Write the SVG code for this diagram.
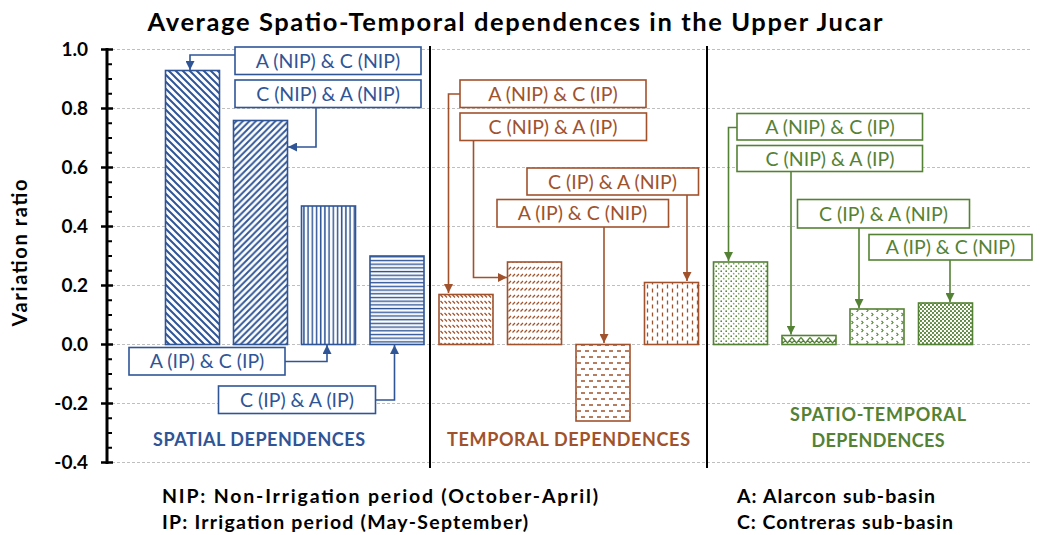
<svg xmlns="http://www.w3.org/2000/svg" width="1040" height="535" viewBox="0 0 1040 535">
  <style>
    .title { font-family: Lato, "Open Sans", sans-serif; font-weight: bold; font-size: 25.5px; fill: #000; }
    .tick { font-family: Lato, "Open Sans", sans-serif; font-weight: bold; font-size: 19px; fill: #000; text-anchor: end; }
    .axlabel { font-family: Lato, "Open Sans", sans-serif; font-weight: bold; font-size: 20px; fill: #000; text-anchor: middle; }
    .grid { stroke: #BFBFBF; stroke-width: 1; stroke-dasharray: 3 2; fill: none; }
    .sep { stroke: #000; stroke-width: 2; }
    .lbl { font-family: Lato, "Open Sans", sans-serif; font-size: 19.5px; text-anchor: middle; }
    .sect { font-family: Lato, "Open Sans", sans-serif; font-weight: bold; font-size: 18px; text-anchor: middle; }
    .legend { font-family: Lato, "Open Sans", sans-serif; font-weight: bold; font-size: 19.5px; fill: #000; }
    .box { fill: #fff; stroke-width: 1.6; }
    .bar { stroke-width: 1.6; }
    .blue { stroke: #2F5597; }
    .brown { stroke: #A0522D; }
    .green { stroke: #548235; }
    .tblue { fill: #2F5597; }
    .tbrown { fill: #A0522D; }
    .tgreen { fill: #548235; }
    .conn { fill: none; stroke-width: 1.6; }
  </style>
  <defs>
    <!-- arrowheads -->
    <marker id="arrBlue" viewBox="0 0 10 10" refX="10" refY="5" markerWidth="9" markerHeight="9" markerUnits="userSpaceOnUse" orient="auto">
      <path d="M0,0 L10,5 L0,10 Z" fill="#2F5597"/>
    </marker>
    <marker id="arrBrown" viewBox="0 0 10 10" refX="10" refY="5" markerWidth="9" markerHeight="9" markerUnits="userSpaceOnUse" orient="auto">
      <path d="M0,0 L10,5 L0,10 Z" fill="#A0522D"/>
    </marker>
    <marker id="arrGreen" viewBox="0 0 10 10" refX="10" refY="5" markerWidth="9" markerHeight="9" markerUnits="userSpaceOnUse" orient="auto">
      <path d="M0,0 L10,5 L0,10 Z" fill="#548235"/>
    </marker>

    <!-- blue fills -->
    <pattern id="pBlueDown" width="7" height="7" patternUnits="userSpaceOnUse">
      <rect width="7" height="7" fill="#fff"/>
      <path d="M0,0 L7,7 M-2,5 L2,9 M5,-2 L9,2" stroke="#2F5597" stroke-width="2"/>
    </pattern>
    <pattern id="pBlueUp" width="6.5" height="6.5" patternUnits="userSpaceOnUse">
      <rect width="6.5" height="6.5" fill="#fff"/>
      <path d="M0,6.5 L6.5,0 M-2,2 L2,-2 M4.5,8.5 L8.5,4.5" stroke="#2F5597" stroke-width="1.9"/>
    </pattern>
    <pattern id="pBlueVert" width="4.2" height="10" patternUnits="userSpaceOnUse">
      <rect width="4.2" height="10" fill="#fff"/>
      <path d="M1.5,0 L1.5,10" stroke="#2F5597" stroke-width="1.5"/>
    </pattern>
    <pattern id="pBlueHorz" width="10" height="3.7" patternUnits="userSpaceOnUse">
      <rect width="10" height="3.7" fill="#fff"/>
      <path d="M0,1.5 L10,1.5" stroke="#2F5597" stroke-width="1.4"/>
    </pattern>

    <!-- brown fills -->
    <pattern id="pBrownDashDown" width="4" height="6" patternUnits="userSpaceOnUse">
      <rect width="4" height="6" fill="#fff"/>
      <path d="M0.5,1 L3,3.5" stroke="#A0522D" stroke-width="1.2"/>
    </pattern>
    <pattern id="pBrownDashUp" width="4" height="7" patternUnits="userSpaceOnUse">
      <rect width="4" height="7" fill="#fff"/>
      <path d="M0.5,3.5 L3,1" stroke="#A0522D" stroke-width="1.2"/>
    </pattern>
    <pattern id="pBrownDashH" width="8" height="12" patternUnits="userSpaceOnUse">
      <rect width="8" height="12" fill="#fff"/>
      <path d="M1,3 L5,3 M5,9 L9,9 M-3,9 L1,9" stroke="#A0522D" stroke-width="1.3"/>
    </pattern>
    <pattern id="pBrownDashV" width="10" height="8" patternUnits="userSpaceOnUse">
      <rect width="10" height="8" fill="#fff"/>
      <path d="M2.5,0.5 L2.5,4.5 M7.5,4.5 L7.5,8.5 M7.5,-3.5 L7.5,0.5" stroke="#A0522D" stroke-width="1.3"/>
    </pattern>

    <!-- green fills -->
    <pattern id="pGreenDots" width="5" height="5" patternUnits="userSpaceOnUse">
      <rect width="5" height="5" fill="#fff"/>
      <circle cx="1.2" cy="1.2" r="0.85" fill="#548235"/>
      <circle cx="3.7" cy="3.7" r="0.85" fill="#548235" opacity="0.7"/>
    </pattern>
    <pattern id="pGreenTrellis" width="9" height="8" patternUnits="userSpaceOnUse">
      <rect width="9" height="8" fill="#fff"/>
      <path d="M0,1.5 L4.5,7 L9,1.5 M0,7 L2.2,4.3 M9,7 L6.8,4.3" stroke="#548235" stroke-width="1.2" fill="none"/>
    </pattern>
    <pattern id="pGreenChevron" width="10" height="8" patternUnits="userSpaceOnUse">
      <rect width="10" height="8" fill="#fff"/>
      <path d="M1.5,1 L3,2.5 L1.5,4 M6.5,5 L8,6.5 L6.5,8" stroke="#548235" stroke-width="1.1" fill="none"/>
    </pattern>
    <pattern id="pGreenDense" width="4" height="4" patternUnits="userSpaceOnUse">
      <rect width="4" height="4" fill="#fff"/>
      <circle cx="1" cy="1" r="1.1" fill="#548235"/>
      <circle cx="3" cy="3" r="1.1" fill="#548235"/>
    </pattern>
  </defs>

  <rect width="1040" height="535" fill="#fff"/>

  <!-- title -->
  <text class="title" x="515" y="31" text-anchor="middle" textLength="735">Average Spatio-Temporal dependences in the Upper Jucar</text>

  <!-- gridlines (0.2 steps: 1 unit = 295 px, zero at y=344.5) -->
  <g id="grid">
    <path class="grid" d="M112,49.5 H1030 M112,108.5 H1030 M112,167.5 H1030 M112,226.5 H1030 M112,285.5 H1030 M112,344.5 H1030 M112,403.5 H1030 M112,462.5 H1030"/>
  </g>

  <!-- y axis -->
  <g id="axis">
    <line x1="107" y1="48" x2="107" y2="464" stroke="#000" stroke-width="3"/>
    <path stroke="#000" stroke-width="2.5" d="M101,49.5 H113 M101,108.5 H113 M101,167.5 H113 M101,226.5 H113 M101,285.5 H113 M101,344.5 H113 M101,403.5 H113 M101,462.5 H113"/>
    <path stroke="#000" stroke-width="2" d="M107,64.25 H112 M107,79 H112 M107,93.75 H112 M107,123.25 H112 M107,138 H112 M107,152.75 H112 M107,182.25 H112 M107,197 H112 M107,211.75 H112 M107,241.25 H112 M107,256 H112 M107,270.75 H112 M107,300.25 H112 M107,315 H112 M107,329.75 H112 M107,359.25 H112 M107,374 H112 M107,388.75 H112 M107,418.25 H112 M107,433 H112 M107,447.75 H112"/>
    <text class="tick" x="88" y="56">1.0</text>
    <text class="tick" x="88" y="115">0.8</text>
    <text class="tick" x="88" y="174">0.6</text>
    <text class="tick" x="88" y="233">0.4</text>
    <text class="tick" x="88" y="292">0.2</text>
    <text class="tick" x="88" y="351">0.0</text>
    <text class="tick" x="88" y="410">-0.2</text>
    <text class="tick" x="88" y="469">-0.4</text>
    <text class="axlabel" transform="translate(27,253) rotate(-90)" textLength="147">Variation ratio</text>
  </g>

  <!-- section separators -->
  <line class="sep" x1="430" y1="46" x2="430" y2="468"/>
  <line class="sep" x1="707" y1="46" x2="707" y2="468"/>

  <!-- bars -->
  <g id="bars">
    <rect id="bar-s1" class="bar blue" x="165.5" y="70.5" width="54" height="274" fill="url(#pBlueDown)"/>
    <rect id="bar-s2" class="bar blue" x="233.5" y="120.5" width="54" height="224" fill="url(#pBlueUp)"/>
    <rect id="bar-s3" class="bar blue" x="301.5" y="206" width="54" height="138.5" fill="url(#pBlueVert)"/>
    <rect id="bar-s4" class="bar blue" x="370" y="256" width="54" height="88.5" fill="url(#pBlueHorz)"/>

    <rect id="bar-t1" class="bar brown" x="439" y="294.5" width="54" height="50" fill="url(#pBrownDashDown)"/>
    <rect id="bar-t2" class="bar brown" x="507.5" y="262" width="54" height="82.5" fill="url(#pBrownDashUp)"/>
    <rect id="bar-t3" class="bar brown" x="576" y="344.5" width="54" height="76.5" fill="url(#pBrownDashH)"/>
    <rect id="bar-t4" class="bar brown" x="644.5" y="282.5" width="54" height="62" fill="url(#pBrownDashV)"/>

    <rect id="bar-st1" class="bar green" x="713.5" y="262" width="54" height="82.5" fill="url(#pGreenDots)"/>
    <rect id="bar-st2" class="bar green" x="782" y="335.5" width="54" height="9" fill="url(#pGreenTrellis)"/>
    <rect id="bar-st3" class="bar green" x="850" y="309" width="54" height="35.5" fill="url(#pGreenChevron)"/>
    <rect id="bar-st4" class="bar green" x="918.5" y="303" width="54" height="41.5" fill="url(#pGreenDense)"/>
  </g>

  <!-- connectors -->
  <g id="connectors">
    <path class="conn blue" d="M235,55 H190 V70" marker-end="url(#arrBlue)"/>
    <path class="conn blue" d="M316,107 V147 H288" marker-end="url(#arrBlue)"/>
    <path class="conn blue" d="M285,361.5 H327 V345" marker-end="url(#arrBlue)"/>
    <path class="conn blue" d="M376,400 H394.5 V345" marker-end="url(#arrBlue)"/>

    <path class="conn brown" d="M460,94 H448.5 V293" marker-end="url(#arrBrown)"/>
    <path class="conn brown" d="M473.5,140.5 V277.5 H507" marker-end="url(#arrBrown)"/>
    <path class="conn brown" d="M604,227 V343" marker-end="url(#arrBrown)"/>
    <path class="conn brown" d="M687,195 V281" marker-end="url(#arrBrown)"/>

    <path class="conn green" d="M737,127.5 H728.5 V261" marker-end="url(#arrGreen)"/>
    <path class="conn green" d="M791,171.5 V334.5" marker-end="url(#arrGreen)"/>
    <path class="conn green" d="M859,228 V308" marker-end="url(#arrGreen)"/>
    <path class="conn green" d="M950,260 V302" marker-end="url(#arrGreen)"/>
  </g>

  <!-- label boxes -->
  <g id="lbl-s1"><rect class="box blue" x="235" y="47" width="186" height="27.5"/><text class="lbl tblue" x="328" y="67.5">A (NIP) &amp; C (NIP)</text></g>
  <g id="lbl-s2"><rect class="box blue" x="235" y="80" width="186" height="27.5"/><text class="lbl tblue" x="328" y="100.5">C (NIP) &amp; A (NIP)</text></g>
  <g id="lbl-s3"><rect class="box blue" x="129" y="347.5" width="156" height="27.5"/><text class="lbl tblue" x="207" y="368">A (IP) &amp; C (IP)</text></g>
  <g id="lbl-s4"><rect class="box blue" x="218.5" y="386" width="157" height="27.5"/><text class="lbl tblue" x="297" y="406.5">C (IP) &amp; A (IP)</text></g>

  <g id="lbl-t1"><rect class="box brown" x="460" y="80" width="186" height="27.5"/><text class="lbl tbrown" x="553" y="100.5">A (NIP) &amp; C (IP)</text></g>
  <g id="lbl-t2"><rect class="box brown" x="460" y="113" width="186.5" height="27.5"/><text class="lbl tbrown" x="553" y="133.5">C (NIP) &amp; A (IP)</text></g>
  <g id="lbl-t3"><rect class="box brown" x="527" y="168" width="171.5" height="27"/><text class="lbl tbrown" x="612.5" y="188.5">C (IP) &amp; A (NIP)</text></g>
  <g id="lbl-t4"><rect class="box brown" x="497" y="199.5" width="171.5" height="27.5"/><text class="lbl tbrown" x="582.5" y="220">A (IP) &amp; C (NIP)</text></g>

  <g id="lbl-st1"><rect class="box green" x="737" y="113.5" width="185.5" height="26.5"/><text class="lbl tgreen" x="830" y="133.5">A (NIP) &amp; C (IP)</text></g>
  <g id="lbl-st2"><rect class="box green" x="737" y="145.5" width="185.5" height="26"/><text class="lbl tgreen" x="830" y="165.5">C (NIP) &amp; A (IP)</text></g>
  <g id="lbl-st3"><rect class="box green" x="797.5" y="199.5" width="172" height="28.5"/><text class="lbl tgreen" x="883.5" y="220.5">C (IP) &amp; A (NIP)</text></g>
  <g id="lbl-st4"><rect class="box green" x="869" y="234.5" width="163" height="25.5"/><text class="lbl tgreen" x="950.5" y="254">A (IP) &amp; C (NIP)</text></g>

  <!-- section captions -->
  <text class="sect tblue" x="259" y="446" textLength="212">SPATIAL DEPENDENCES</text>
  <text class="sect tbrown" x="568.5" y="446" textLength="243">TEMPORAL DEPENDENCES</text>
  <text class="sect tgreen" x="878" y="421" textLength="176">SPATIO-TEMPORAL</text>
  <text class="sect tgreen" x="878" y="447" textLength="133">DEPENDENCES</text>

  <!-- legend notes -->
  <text class="legend" x="162" y="503" textLength="436">NIP: Non-Irrigation period (October-April)</text>
  <text class="legend" x="162" y="529" textLength="366">IP: Irrigation period (May-September)</text>
  <text class="legend" x="737" y="503" textLength="198">A: Alarcon sub-basin</text>
  <text class="legend" x="737" y="529" textLength="216">C: Contreras sub-basin</text>
</svg>
